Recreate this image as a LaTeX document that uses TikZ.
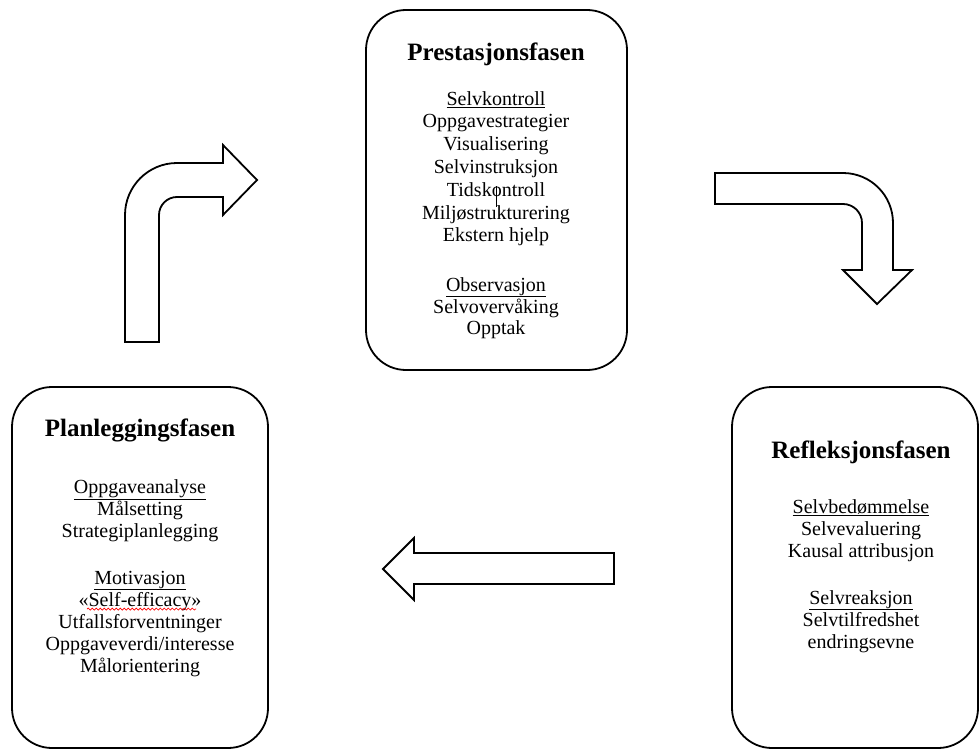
\documentclass[tikz,border=0pt]{standalone}
\usepackage{fontspec}
\setmainfont{Liberation Serif}
\usetikzlibrary{decorations.pathmorphing}
\tikzset{
  box/.style={line width=1.8pt, rounded corners=40pt},
  arr/.style={line width=1.8pt, line join=miter},
  ttl/.style={anchor=base, inner sep=0pt, font=\fontsize{25}{28}\selectfont\bfseries},
  txt/.style={anchor=base, inner sep=0pt, font=\fontsize{20}{22}\selectfont},
}
\begin{document}
\begin{tikzpicture}[x=1pt,y=-1pt]
\useasboundingbox (0,0) rectangle (979,749);
% boxes
\draw[box] (366,10) rectangle (627,370);
\draw[box] (12,387) rectangle (268,748);
\draw[box] (732,387) rectangle (978,748);
% top box text
\node[ttl] (t1) at (496,61) {Prestasjonsfasen};
\node[txt] (a1) at (496,106) {\underline{Selvkontroll}};
\node[txt] (a2) at (496,128) {Oppgavestrategier};
\node[txt] (a3) at (496,150) {Visualisering};
\node[txt] (a4) at (496,173) {Selvinstruksjon};
\node[txt] (a5) at (496,196) {Tidskontroll};
\node[txt] (a6) at (496,219) {Miljøstrukturering};
\node[txt] (a7) at (496,241) {Ekstern hjelp};
\node[txt] (a8) at (496,291) {\underline{Observasjon}};
\node[txt] (a9) at (496,313) {Selvovervåking};
\node[txt] (a10) at (496,334) {Opptak};
\draw[line width=0.8pt] (496,186) -- (496,207);
% left box text
\node[ttl] (t2) at (140,436) {Planleggingsfasen};
\node[txt] (b1) at (140,493) {\underline{Oppgaveanalyse}};
\node[txt] (b2) at (140,515) {Målsetting};
\node[txt] (b3) at (140,537) {Strategiplanlegging};
\node[txt] (b4) at (140,584) {\underline{Motivasjon}};
\node[txt] (b5) at (140,606) {«Self-efficacy»};
\node[txt] (b6) at (140,628) {Utfallsforventninger};
\node[txt] (b7) at (140,650) {Oppgaveverdi/interesse};
\node[txt] (b8) at (140,672) {Målorientering};
\draw[red, line width=0.7pt, decorate, decoration={snake, amplitude=1pt, segment length=4pt}] (87,609) -- (196,609);
% right box text
\node[ttl] (t3) at (861,458) {Refleksjonsfasen};
\node[txt] (c1) at (861,513) {\underline{Selvbedømmelse}};
\node[txt] (c2) at (861,535) {Selvevaluering};
\node[txt] (c3) at (861,557) {Kausal attribusjon};
\node[txt] (c4) at (861,604) {\underline{Selvreaksjon}};
\node[txt] (c5) at (861,626) {Selvtilfredshet};
\node[txt] (c6) at (861,648) {endringsevne};
% arrows
\draw[arr] (125,342) -- (125,215) arc[start angle=180, end angle=90, radius=52pt]
  -- (223,163) -- (223,145) -- (257,180) -- (223,215) -- (223,197) -- (177,197)
  arc[start angle=90, end angle=180, radius=18pt] -- (159,342) -- cycle;
\draw[arr] (715,173) -- (843,173) arc[start angle=90, end angle=0, radius=50pt]
  -- (893,270) -- (912,270) -- (877,304) -- (843,270) -- (862,270) -- (862,223)
  arc[start angle=0, end angle=90, radius=19pt] -- (715,204) -- cycle;
\draw[arr] (383,569) -- (414,538) -- (414,553) -- (614,553) -- (614,584) -- (414,584) -- (414,600) -- cycle;
\end{tikzpicture}
\end{document}
